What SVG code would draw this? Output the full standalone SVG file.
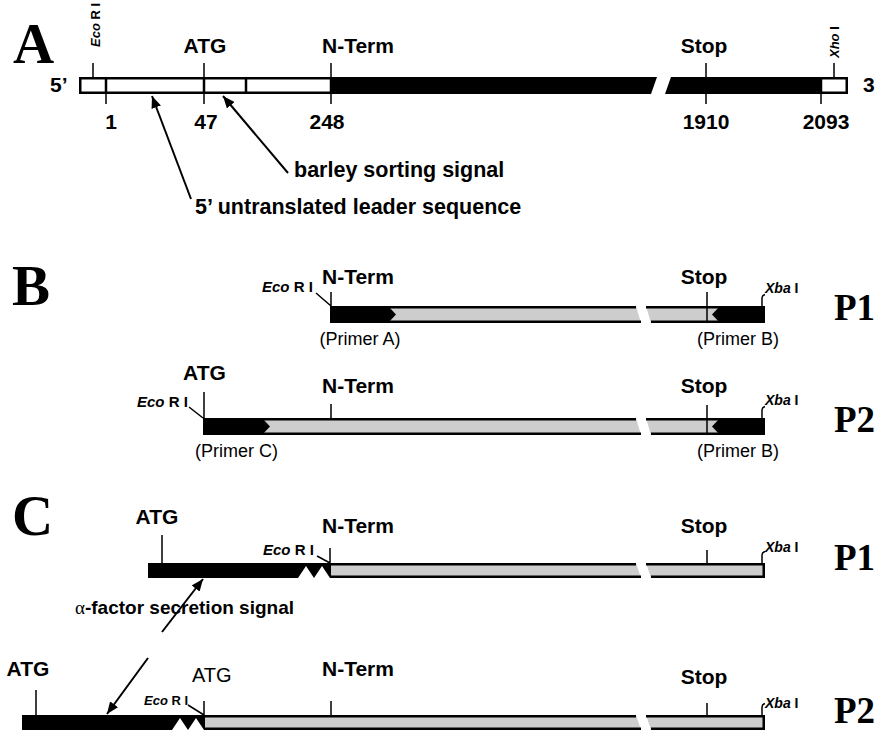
<svg xmlns="http://www.w3.org/2000/svg" width="875" height="734" viewBox="0 0 875 734">
<style>
.lbl{font-family:"Liberation Sans",Arial,sans-serif;font-weight:bold;font-size:21px;fill:#000}
.big{font-family:"Liberation Serif","Times New Roman",serif;font-weight:bold;font-size:57px;fill:#000}
.pl{font-family:"Liberation Serif","Times New Roman",serif;font-weight:bold;font-size:37px;fill:#000}
.site{font-family:"Liberation Sans",Arial,sans-serif;font-weight:bold;font-size:15px;fill:#000}
.it{font-style:italic}
.primer{font-family:"Liberation Sans",Arial,sans-serif;font-size:18px;fill:#000}
.reg{font-family:"Liberation Sans",Arial,sans-serif;font-size:20px;fill:#000}
.tick{stroke:#000;stroke-width:1.5;fill:none}
.edge{stroke:#000;stroke-width:2.5;fill:none}
.gray{fill:#cdcdcd}
.blk{fill:#000}
.arr{stroke:#000;stroke-width:2;fill:none;marker-end:url(#ah)}
</style>
<defs>
<marker id="ah" markerUnits="userSpaceOnUse" markerWidth="12" markerHeight="10" refX="12" refY="5" orient="auto">
<path d="M0,0 L12,5 L0,10 Z" fill="#000"/>
</marker>
</defs>
<rect width="875" height="734" fill="#fff"/>

<!-- Panel A -->
<g id="panelA-letter"><text class="big" x="13" y="63">A</text></g>
<g id="A-construct">
<rect x="80.25" y="78.25" width="250.75" height="14.5" fill="#fff" stroke="#000" stroke-width="2.5"/>
<path class="edge" d="M106,77V94 M204,77V94 M246,77V94"/>
<polygon class="blk" points="331,77 657,77 651,94 331,94"/>
<polygon class="blk" points="671,77 821,77 821,94 665,94"/>
<rect x="821" y="78.25" width="25.75" height="14.5" fill="#fff" stroke="#000" stroke-width="2.5"/>
<path class="tick" d="M93,63V77 M204,63V77 M204,94V104 M106,94V104 M331,63V104 M706,63V104 M821,94V104 M834,63V77"/>
<text class="lbl" x="50" y="92">5’</text>
<text class="lbl" x="863" y="92">3</text>
<text class="site" transform="translate(100,47) rotate(-90)" style="font-size:13px"><tspan class="it">Eco</tspan> R I</text>
<text class="site" transform="translate(839,58) rotate(-90)" style="font-size:13px"><tspan class="it">Xho</tspan> I</text>
<text class="lbl" x="205" y="53" text-anchor="middle">ATG</text>
<text class="lbl" x="322" y="53">N-Term</text>
<text class="lbl" x="704" y="53" text-anchor="middle">Stop</text>
<text class="lbl" x="111" y="129" text-anchor="middle">1</text>
<text class="lbl" x="206" y="129" text-anchor="middle">47</text>
<text class="lbl" x="327" y="129" text-anchor="middle">248</text>
<text class="lbl" x="706" y="129" text-anchor="middle">1910</text>
<text class="lbl" x="826" y="129" text-anchor="middle">2093</text>
</g>
<g id="A-label-barley"><text class="lbl" x="294" y="177" style="font-size:21.5px">barley sorting signal</text></g>
<g id="A-label-utr"><text class="lbl" x="195" y="214" style="font-size:21.5px">5’ untranslated leader sequence</text></g>

<!-- Panel B -->
<g id="panelB-letter"><text class="big" x="12" y="305">B</text></g>
<g id="B-P1">
<polygon class="gray" points="330,306 636,306 641,323 330,323"/>
<polygon class="gray" points="646,306 765,306 765,323 651,323"/>
<path class="edge" d="M330,307.25H636 M330,321.75H641 M646,307.25H765 M651,321.75H765"/>
<polygon class="blk" points="330,306 388,306 396,314.5 388,323 330,323"/>
<polygon class="blk" points="720,306 765,306 765,323 720,323 712,314.5"/>
<path class="tick" d="M331,292V306 M316,293L331,306 M707,292V322 M762,306V298Q762,295.5 765,294.5"/>
<text class="lbl" x="322" y="284">N-Term</text>
<text class="lbl" x="704" y="284" text-anchor="middle">Stop</text>
<text class="site" x="262" y="292"><tspan class="it">Eco</tspan> R I</text>
<text class="site" x="765" y="293" style="font-size:14px"><tspan class="it">Xba</tspan> I</text>
<text class="primer" x="360" y="345" text-anchor="middle">(Primer A)</text>
<text class="primer" x="738" y="345" text-anchor="middle">(Primer B)</text>
<text class="pl" x="834" y="320">P1</text>
</g>
<g id="B-P2">
<polygon class="gray" points="203,418 636,418 641,435 203,435"/>
<polygon class="gray" points="646,418 765,418 765,435 651,435"/>
<path class="edge" d="M203,419.25H636 M203,433.75H641 M646,419.25H765 M651,433.75H765"/>
<polygon class="blk" points="203,418 262,418 270,426.5 262,435 203,435"/>
<polygon class="blk" points="720,418 765,418 765,435 720,435 712,426.5"/>
<path class="tick" d="M204,392V418 M189,407L203,418 M331,404V418 M707,405V434 M762,418V410Q762,407.5 765,406.5"/>
<text class="lbl" x="204.5" y="380" text-anchor="middle">ATG</text>
<text class="lbl" x="322" y="393">N-Term</text>
<text class="lbl" x="704" y="393" text-anchor="middle">Stop</text>
<text class="site" x="137" y="407"><tspan class="it">Eco</tspan> R I</text>
<text class="site" x="765" y="405" style="font-size:14px"><tspan class="it">Xba</tspan> I</text>
<text class="primer" x="195" y="457">(Primer C)</text>
<text class="primer" x="738" y="457" text-anchor="middle">(Primer B)</text>
<text class="pl" x="834" y="432">P2</text>
</g>

<!-- Panel C -->
<g id="panelC-letter"><text class="big" x="12" y="535">C</text></g>
<g id="C-P1">
<polygon class="gray" points="330,563 636,563 641,578 330,578"/>
<polygon class="gray" points="646,563 765,563 765,578 651,578"/>
<path class="edge" d="M330,564.25H636 M330,576.75H641 M646,564.25H765 M651,576.75H763.75V564.25"/>
<polygon class="blk" points="148,563 331,563 331,578 330,578 322,566 314,578 306,566 298,578 148,578"/>
<path class="tick" d="M162,535V563 M330,548V563 M317,556L330,563 M707,550V563 M762,563V555Q762,552.5 765,551.5"/>
<text class="lbl" x="157" y="524" text-anchor="middle">ATG</text>
<text class="lbl" x="322" y="533">N-Term</text>
<text class="lbl" x="704" y="533" text-anchor="middle">Stop</text>
<text class="site" x="263" y="555"><tspan class="it">Eco</tspan> R I</text>
<text class="site" x="765" y="552" style="font-size:14px"><tspan class="it">Xba</tspan> I</text>
<text class="pl" x="834" y="570">P1</text>
</g>
<g id="C-P2">
<polygon class="gray" points="204,715 636,715 641,730 204,730"/>
<polygon class="gray" points="646,715 765,715 765,730 651,730"/>
<path class="edge" d="M204,716.25H636 M204,728.75H641 M646,716.25H765 M651,728.75H763.75V716.25"/>
<polygon class="blk" points="22,715 205,715 205,730 204,730 196,718 188,730 180,718 172,730 22,730"/>
<path class="tick" d="M36,690V715 M204,701V715 M188,705L204,715 M331,701V715 M707,703V715 M762,715V707Q762,704.5 765,703.5"/>
<text class="lbl" x="28" y="676" text-anchor="middle">ATG</text>
<text class="reg" x="192" y="682">ATG</text>
<text class="lbl" x="322" y="676">N-Term</text>
<text class="lbl" x="704" y="684" text-anchor="middle">Stop</text>
<text class="site" x="144" y="705" style="font-size:13px"><tspan class="it">Eco</tspan> R I</text>
<text class="site" x="765" y="708" style="font-size:14px"><tspan class="it">Xba</tspan> I</text>
<text class="pl" x="834" y="723">P2</text>
</g>
<g id="C-label-alpha"><text class="lbl" x="75" y="614" style="font-size:19px"><tspan style="font-family:'Liberation Serif',serif;font-weight:normal">α</tspan>-factor secretion signal</text></g>

<!-- Connectors -->
<g id="connectors">
<line class="arr" x1="191" y1="199" x2="152" y2="96"/>
<line class="arr" x1="288" y1="173" x2="223" y2="96"/>
<line class="arr" x1="162" y1="632" x2="203" y2="579"/>
<line class="arr" x1="148" y1="658" x2="107" y2="714"/>
</g>
</svg>
